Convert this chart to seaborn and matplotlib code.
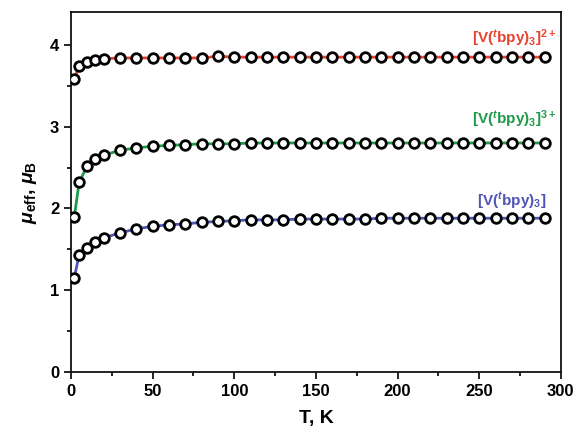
import matplotlib
matplotlib.use("Agg")
import matplotlib.pyplot as plt
import seaborn as sns
import pandas as pd

T = [2, 5, 10, 15, 20, 30, 40, 50, 60, 70, 80, 90, 100, 110, 120, 130, 140, 150,
     160, 170, 180, 190, 200, 210, 220, 230, 240, 250, 260, 270, 280, 290]

mu_2plus = [3.58, 3.74, 3.79, 3.82, 3.83, 3.84, 3.84, 3.84, 3.84, 3.84, 3.84, 3.86, 3.85, 3.85,
            3.85, 3.85, 3.85, 3.85, 3.85, 3.85, 3.85, 3.85, 3.85, 3.85, 3.85, 3.85, 3.85,
            3.85, 3.85, 3.85, 3.85, 3.85]
mu_3plus = [1.89, 2.32, 2.52, 2.60, 2.65, 2.71, 2.74, 2.76, 2.77, 2.78, 2.79, 2.79, 2.79, 2.80,
            2.80, 2.80, 2.80, 2.80, 2.80, 2.80, 2.80, 2.80, 2.80, 2.80, 2.80, 2.80, 2.80,
            2.80, 2.80, 2.80, 2.80, 2.80]
mu_neutral = [1.15, 1.43, 1.52, 1.59, 1.64, 1.70, 1.75, 1.78, 1.80, 1.81, 1.83, 1.84, 1.85, 1.86,
              1.86, 1.86, 1.87, 1.87, 1.87, 1.87, 1.87, 1.88, 1.88, 1.88, 1.88, 1.88, 1.88,
              1.88, 1.88, 1.88, 1.88, 1.88]

labels = [r"[V($^t$bpy)$_3$]$^{2+}$", r"[V($^t$bpy)$_3$]$^{3+}$", r"[V($^t$bpy)$_3$]"]
colors = ["#e8432f", "#1f9a4a", "#4f56b5"]

sns.set_style("ticks")
plt.rcParams["font.family"] = ["Liberation Sans", "DejaVu Sans"]
plt.rcParams["font.weight"] = "bold"
plt.rcParams["mathtext.fontset"] = "custom"
plt.rcParams["mathtext.rm"] = "Liberation Sans:bold"
plt.rcParams["mathtext.it"] = "Liberation Sans:bold:italic"
plt.rcParams["mathtext.bf"] = "Liberation Sans:bold"
plt.rcParams["text.color"] = "black"
plt.rcParams["axes.labelcolor"] = "black"
plt.rcParams["xtick.color"] = "black"
plt.rcParams["ytick.color"] = "black"

fig = plt.figure(figsize=(5.77, 4.34), dpi=100)
ax = fig.add_axes([0.123, 0.143, 0.849, 0.829])

series = [mu_2plus, mu_3plus, mu_neutral]
for vals, col in zip(series, colors):
    df = pd.DataFrame({"T": T, "mu": vals})
    sns.lineplot(data=df, x="T", y="mu", color=col, linewidth=2.0, ax=ax, zorder=2)
for vals in series:
    df = pd.DataFrame({"T": T, "mu": vals})
    sns.scatterplot(data=df, x="T", y="mu", marker="o", s=48, facecolor="white",
                    edgecolor="black", linewidth=2.0, ax=ax, zorder=3)

ax.text(297, 4.02, labels[0], color=colors[0], ha="right", va="baseline",
        fontsize=11, fontweight="bold")
ax.text(297, 3.03, labels[1], color=colors[1], ha="right", va="baseline",
        fontsize=11, fontweight="bold")
ax.text(291, 2.03, labels[2], color=colors[2], ha="right", va="baseline",
        fontsize=11, fontweight="bold")

ax.set_xlim(0, 300)
ax.set_ylim(0, 4.4)
ax.set_xticks([0, 50, 100, 150, 200, 250, 300])
ax.set_xticks([25, 75, 125, 175, 225, 275], minor=True)
ax.set_yticks([0, 1, 2, 3, 4])
ax.set_yticks([0.5, 1.5, 2.5, 3.5], minor=True)
ax.tick_params(axis="both", which="major", direction="out", length=5, width=1.2,
               labelsize=12, colors="black")
ax.tick_params(axis="both", which="minor", direction="out", length=3, width=1.2,
               colors="black")
for lbl in ax.get_xticklabels() + ax.get_yticklabels():
    lbl.set_fontweight("bold")
for sp in ax.spines.values():
    sp.set_linewidth(1.3)
    sp.set_color("#111111")

ax.set_xlabel("T, K", fontsize=14, fontweight="bold", labelpad=8)
ax.set_ylabel(r"$\mu_{\rm eff}$, $\mu_{\rm B}$", fontsize=14, fontweight="bold", labelpad=8)

fig.savefig("out.png", dpi=100)
